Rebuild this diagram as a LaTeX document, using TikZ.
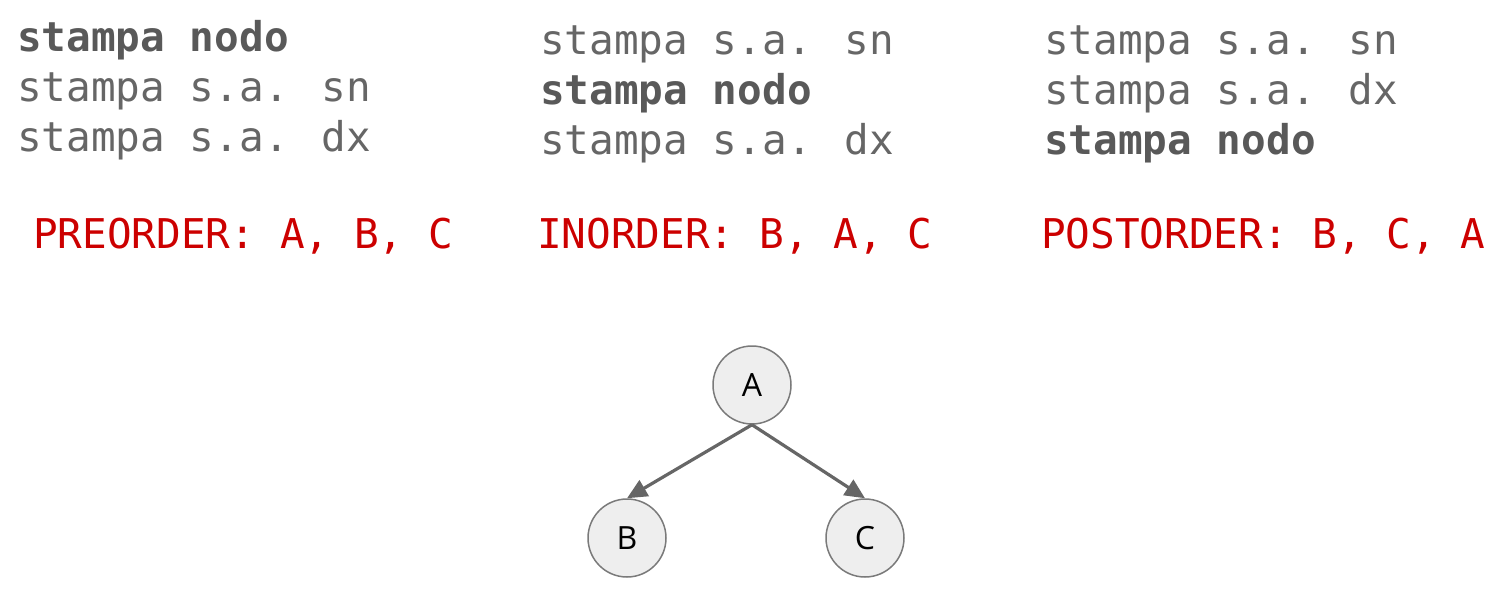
\documentclass[tikz,border=0pt]{standalone}
\usepackage{fontspec}
\usetikzlibrary{arrows.meta}
\newfontfamily\codefont{DejaVu Sans Mono}
\newfontfamily\nodefont{Open Sans}
\definecolor{txtgray}{HTML}{666666}
\definecolor{boldgray}{HTML}{595959}
\definecolor{ordred}{HTML}{CC0000}
\definecolor{nodefill}{HTML}{EEEEEE}
\definecolor{nodeline}{HTML}{7A7A7A}
\definecolor{edgegray}{HTML}{666666}
\tikzset{
  codeline/.style={anchor=base west, inner sep=0pt, text=txtgray, font=\codefont\fontsize{41}{50}\selectfont},
  codebold/.style={codeline, text=boldgray, font=\codefont\bfseries\fontsize{41}{50}\selectfont},
  orderline/.style={anchor=base west, inner sep=0pt, text=ordred, font=\codefont\fontsize{41}{50}\selectfont},
  treenode/.style={circle, minimum size=78pt, inner sep=0pt, fill=nodefill, draw=nodeline, line width=1.5pt, font=\nodefont\fontsize{32}{36}\selectfont, text=black},
  treeedge/.style={draw=edgegray, line width=3.2pt, -{Triangle[length=20pt,width=18pt]}}
}
\begin{document}
\begin{tikzpicture}[x=1pt,y=-1pt]
\useasboundingbox (0,0) rectangle (1510,596);
% column 1
\node[codebold] (p1) at (17,52) {stampa nodo};
\node[codeline] (p2) at (17,102) {stampa s.a. sn};
\node[codeline] (p3) at (17,152) {stampa s.a. dx};
% column 2
\node[codeline] (i1) at (540,55) {stampa s.a. sn};
\node[codebold] (i2) at (540,105) {stampa nodo};
\node[codeline] (i3) at (540,155) {stampa s.a. dx};
% column 3
\node[codeline] (o1) at (1044,55) {stampa s.a. sn};
\node[codeline] (o2) at (1044,105) {stampa s.a. dx};
\node[codebold] (o3) at (1044,155) {stampa nodo};
% orders
\node[orderline] (pre) at (33,248) {PREORDER: A, B, C};
\node[orderline] (in) at (537,248) {INORDER: B, A, C};
\node[orderline] (post) at (1041,248) {POSTORDER: B, C, A};
% tree
\node[treenode] (A) at (752,385) {A};
\node[treenode] (B) at (627,538) {B};
\node[treenode] (C) at (865,538) {C};
\draw[treeedge] (A.south) -- (B.north);
\draw[treeedge] (A.south) -- (C.north);
\end{tikzpicture}
\end{document}
